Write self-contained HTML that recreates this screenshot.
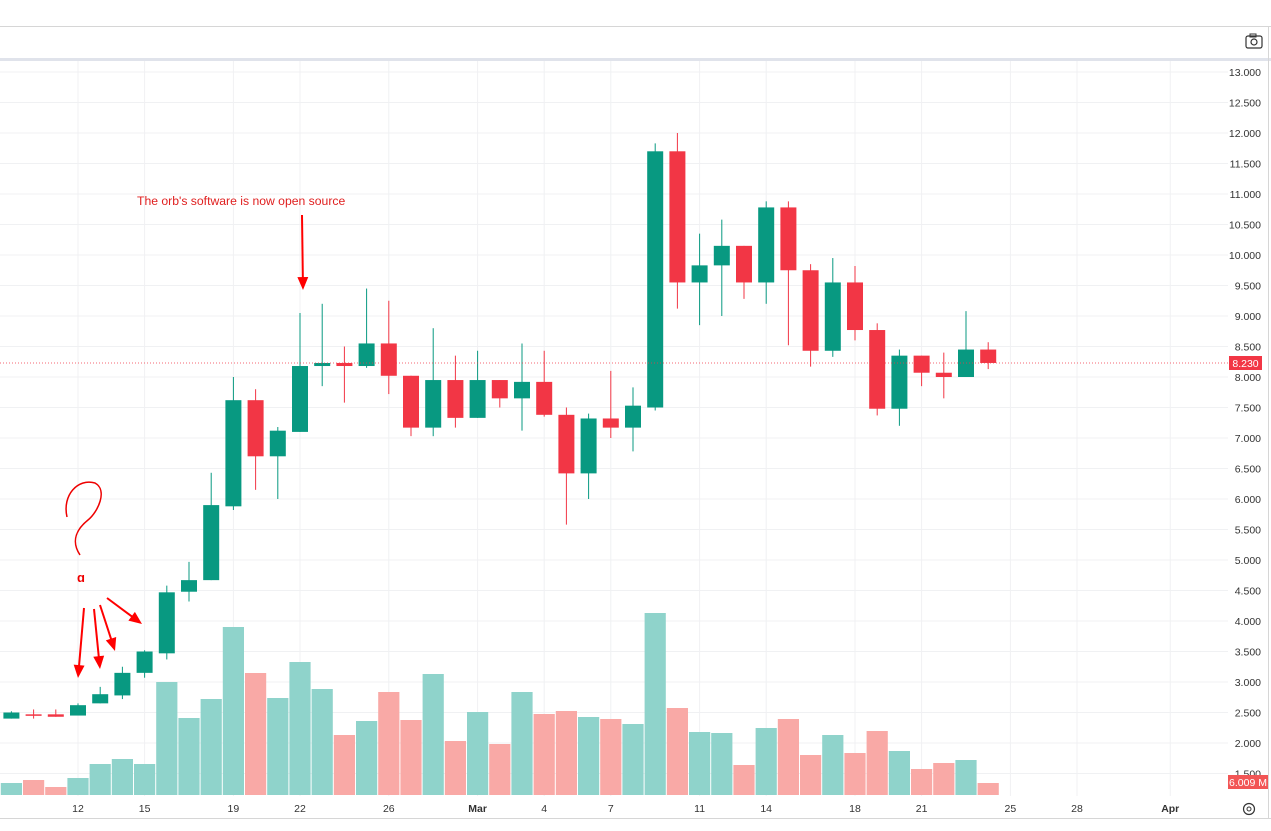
<!DOCTYPE html>
<html><head><meta charset="utf-8"><style>
html,body{margin:0;padding:0;background:#fff;width:1271px;height:831px;overflow:hidden;font-family:"Liberation Sans",sans-serif}
</style></head><body>
<svg id="s" width="1271" height="831" xmlns="http://www.w3.org/2000/svg" font-family="Liberation Sans, sans-serif"></svg>
<script>
const s=document.getElementById('s');let h='';
const Y=p=>72+(13-p)*61, X=d=>78+(d-12)*22.2;
h+='<line x1="0" y1="26.5" x2="1271" y2="26.5" stroke="#d6d6d6"/>';
h+='<rect x="0" y="58" width="1271" height="3" fill="#e0e3eb"/>';
h+='<line x1="0" y1="818.5" x2="1271" y2="818.5" stroke="#d6d6d6"/>';
h+='<line x1="1268.5" y1="26" x2="1268.5" y2="819" stroke="#d6d6d6"/>';
h+='<rect x="1246" y="36" width="16" height="12" rx="2" fill="none" stroke="#333" stroke-width="1.2"/><rect x="1250" y="34" width="6" height="3" fill="none" stroke="#333" stroke-width="1"/><circle cx="1254" cy="42" r="3" fill="none" stroke="#333" stroke-width="1.2"/>';
for(let p=1.5;p<=13;p+=0.5){const y=Y(p);h+=`<line x1="0" y1="${y}" x2="1228" y2="${y}" stroke="#f0f1f3"/>`;h+=`<text x="1261" y="${y+4}" font-size="10.5" fill="#333" text-anchor="end">${p.toFixed(3)}</text>`;}
const dl=[[12,'12'],[15,'15'],[19,'19'],[22,'22'],[26,'26'],[30,'Mar'],[33,'4'],[36,'7'],[40,'11'],[43,'14'],[47,'18'],[50,'21'],[54,'25'],[57,'28'],[61.2,'Apr']];
for(const [d,t] of dl){const x=X(d);h+=`<line x1="${x}" y1="61" x2="${x}" y2="796" stroke="#f0f1f3"/>`;h+=`<text x="${x}" y="812" font-size="10.5" fill="#333" text-anchor="middle" ${t=='Mar'||t=='Apr'?'font-weight="bold"':''}>${t}</text>`;}
const D=[[9,2.40,2.52,2.40,2.50,783],[10,2.47,2.55,2.40,2.46,780],[11,2.47,2.55,2.43,2.43,787],[12,2.45,2.65,2.45,2.62,778],[13,2.65,2.92,2.65,2.80,764],[14,2.78,3.25,2.72,3.15,759],[15,3.15,3.52,3.07,3.50,764],[16,3.47,4.58,3.37,4.47,682],[17,4.48,4.97,4.32,4.67,718],[18,4.67,6.43,4.67,5.90,699],[19,5.88,8.0,5.82,7.62,627],[20,7.62,7.80,6.15,6.70,673],[21,6.70,7.18,6.0,7.12,698],[22,7.10,9.05,7.10,8.18,662],[23,8.18,9.20,7.85,8.23,689],[24,8.23,8.50,7.58,8.18,735],[25,8.18,9.45,8.15,8.55,721],[26,8.55,9.25,7.72,8.02,692],[27,8.02,8.02,7.03,7.17,720],[28,7.17,8.80,7.03,7.95,674],[29,7.95,8.35,7.17,7.33,741],[30,7.33,8.43,7.33,7.95,712],[31,7.95,7.95,7.50,7.65,744],[32,7.65,8.55,7.12,7.92,692],[33,7.92,8.43,7.35,7.38,714],[34,7.38,7.50,5.58,6.42,711],[35,6.42,7.40,6.0,7.32,717],[36,7.32,8.10,7.0,7.17,719],[37,7.17,7.83,6.78,7.53,724],[38,7.50,11.83,7.45,11.70,613],[39,11.70,12.0,9.12,9.55,708],[40,9.55,10.35,8.85,9.83,732],[41,9.83,10.58,9.0,10.15,733],[42,10.15,10.15,9.28,9.55,765],[43,9.55,10.88,9.20,10.78,728],[44,10.78,10.88,8.52,9.75,719],[45,9.75,9.85,8.17,8.43,755],[46,8.43,9.95,8.33,9.55,735],[47,9.55,9.82,8.60,8.77,753],[48,8.77,8.88,7.37,7.48,731],[49,7.48,8.45,7.20,8.35,751],[50,8.35,8.35,7.85,8.07,769],[51,8.07,8.40,7.65,8.00,763],[52,8.00,9.08,8.00,8.45,760],[53,8.45,8.57,8.13,8.23,783]];
for(const [d,o,hi,lo,c,v] of D){const x=X(d),up=c>=o;h+=`<rect x="${x-10.6}" y="${v}" width="21.2" height="${795-v}" fill="${up?'#8fd3cb':'#f9a9a6'}"/>`;}
for(const [d,o,hi,lo,c,v] of D){const x=X(d),up=c>=o,col=up?'#089981':'#f23645';const t=Y(Math.max(o,c)),b=Y(Math.min(o,c));
h+=`<line x1="${x}" y1="${Y(hi)}" x2="${x}" y2="${Y(lo)}" stroke="${col}" stroke-width="1"/>`;
h+=`<rect x="${x-8}" y="${t}" width="16" height="${Math.max(1.5,b-t)}" fill="${col}"/>`;}
h+=`<line x1="0" y1="363" x2="1228" y2="363" stroke="#f23645" stroke-dasharray="1,2" stroke-width="0.8"/>`;
h+=`<rect x="1229" y="356" width="33" height="14" fill="#f23645"/><text x="1245.5" y="367" font-size="10.5" fill="#fff" text-anchor="middle">8.230</text>`;
h+=`<rect x="1228" y="775" width="40" height="14" fill="#f25555"/><text x="1248" y="786" font-size="10.5" fill="#fff" text-anchor="middle">6.009 M</text>`;
h+=`<circle cx="1249" cy="809" r="5.5" fill="none" stroke="#333" stroke-width="1.2"/><circle cx="1249" cy="809" r="2" fill="none" stroke="#333"/>`;
h+=`<text x="137" y="205" font-size="12.2" fill="#e02020">The orb's software is now open source</text>`;
const ar=(x1,y1,x2,y2)=>{const a=Math.atan2(y2-y1,x2-x1),L=14,w=0.4;h+=`<line x1="${x1}" y1="${y1}" x2="${x2-Math.cos(a)*8}" y2="${y2-Math.sin(a)*8}" stroke="#f00" stroke-width="2"/><polygon points="${x2},${y2} ${x2-L*Math.cos(a-w)},${y2-L*Math.sin(a-w)} ${x2-L*Math.cos(a+w)},${y2-L*Math.sin(a+w)}" fill="#f00"/>`;};
ar(302,215,303,290);ar(84,608,78,678);ar(94,609,100,669);ar(100,605,115,651);ar(107,598,142,624);
h+=`<path d="M67,517 C62,495 78,478 95,483 C108,490 98,512 88,520 C78,528 70,540 80,555" fill="none" stroke="#e00" stroke-width="1.5"/>`;
h+=`<text x="77" y="582" font-size="13" fill="#e00" font-weight="bold">&#x0251;</text>`;
s.innerHTML=h;
</script>
</body></html>
